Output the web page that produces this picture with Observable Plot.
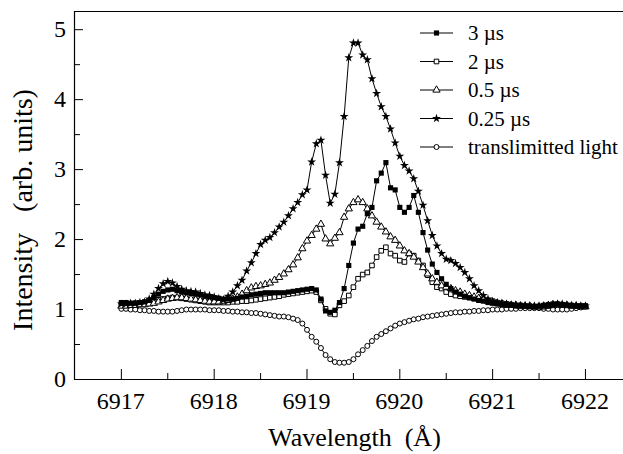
<!DOCTYPE html>
<html>
<head>
<meta charset="utf-8">
<script src="https://cdn.jsdelivr.net/npm/d3@7"></script>
<script src="https://cdn.jsdelivr.net/npm/@observablehq/plot@0.6"></script>
<style>
  html, body { margin: 0; padding: 0; background: #fff; }
  #chart { width: 623px; height: 454px; }
</style>
</head>
<body>
<div id="chart"></div>
<script>
const wavelength = [
  6917.00, 6917.05, 6917.10, 6917.15, 6917.20, 6917.25, 6917.30, 6917.35, 6917.40, 6917.45,
  6917.50, 6917.55, 6917.60, 6917.65, 6917.70, 6917.75, 6917.80, 6917.85, 6917.90, 6917.95,
  6918.00, 6918.05, 6918.10, 6918.15, 6918.20, 6918.25, 6918.30, 6918.35, 6918.40, 6918.45,
  6918.50, 6918.55, 6918.60, 6918.65, 6918.70, 6918.75, 6918.80, 6918.85, 6918.90, 6918.95,
  6919.00, 6919.05, 6919.10, 6919.15, 6919.20, 6919.25, 6919.30, 6919.35, 6919.40, 6919.45,
  6919.50, 6919.55, 6919.60, 6919.65, 6919.70, 6919.75, 6919.80, 6919.85, 6919.90, 6919.95,
  6920.00, 6920.05, 6920.10, 6920.15, 6920.20, 6920.25, 6920.30, 6920.35, 6920.40, 6920.45,
  6920.50, 6920.55, 6920.60, 6920.65, 6920.70, 6920.75, 6920.80, 6920.85, 6920.90, 6920.95,
  6921.00, 6921.05, 6921.10, 6921.15, 6921.20, 6921.25, 6921.30, 6921.35, 6921.40, 6921.45,
  6921.50, 6921.55, 6921.60, 6921.65, 6921.70, 6921.75, 6921.80, 6921.85, 6921.90, 6921.95,
  6922.00
];

const int3us = [
  1.10, 1.10, 1.09, 1.09, 1.10, 1.11, 1.13, 1.17, 1.22, 1.26,
  1.28, 1.29, 1.27, 1.25, 1.24, 1.23, 1.22, 1.21, 1.19, 1.18,
  1.17, 1.16, 1.15, 1.15, 1.15, 1.16, 1.18, 1.19, 1.21, 1.22,
  1.23, 1.24, 1.24, 1.24, 1.24, 1.24, 1.25, 1.26, 1.27, 1.28,
  1.29, 1.30, 1.28, 1.15, 0.98, 0.96, 0.99, 1.10, 1.30, 1.63,
  1.95, 2.15, 2.19, 2.37, 2.46, 2.84, 2.95, 3.10, 2.74, 2.71,
  2.46, 2.39, 2.46, 2.63, 2.39, 2.10, 1.85, 1.65, 1.53, 1.44,
  1.36, 1.30, 1.25, 1.22, 1.19, 1.17, 1.15, 1.13, 1.12, 1.10,
  1.09, 1.08, 1.07, 1.06, 1.06, 1.05, 1.05, 1.05, 1.04, 1.04,
  1.05, 1.06, 1.07, 1.08, 1.08, 1.07, 1.06, 1.06, 1.05, 1.05,
  1.05
];

const int2us = [
  1.08, 1.08, 1.08, 1.09, 1.09, 1.10, 1.11, 1.13, 1.14, 1.15,
  1.16, 1.17, 1.17, 1.16, 1.15, 1.14, 1.13, 1.12, 1.11, 1.10,
  1.10, 1.10, 1.10, 1.10, 1.11, 1.11, 1.12, 1.12, 1.13, 1.14,
  1.15, 1.16, 1.17, 1.18, 1.19, 1.21, 1.22, 1.23, 1.24, 1.25,
  1.26, 1.27, 1.25, 1.13, 1.01, 0.94, 0.93, 1.06, 1.12, 1.20,
  1.32, 1.44, 1.50, 1.53, 1.63, 1.75, 1.84, 1.89, 1.80, 1.77,
  1.70, 1.68, 1.80, 1.77, 1.70, 1.63, 1.49, 1.39, 1.32, 1.30,
  1.25, 1.22, 1.20, 1.19, 1.18, 1.17, 1.16, 1.15, 1.14, 1.13,
  1.12, 1.10, 1.09, 1.08, 1.07, 1.06, 1.06, 1.05, 1.05, 1.04,
  1.04, 1.04, 1.05, 1.06, 1.07, 1.07, 1.06, 1.05, 1.05, 1.05,
  1.05
];

const int05us = [
  1.05, 1.05, 1.06, 1.06, 1.07, 1.07, 1.08, 1.09, 1.11, 1.13,
  1.15, 1.16, 1.17, 1.17, 1.16, 1.15, 1.14, 1.13, 1.12, 1.11,
  1.11, 1.11, 1.12, 1.13, 1.15, 1.18, 1.22, 1.27, 1.31, 1.33,
  1.34, 1.36, 1.38, 1.42, 1.46, 1.51, 1.57, 1.64, 1.74, 1.87,
  1.98, 2.06, 2.15, 2.22, 2.01, 1.94, 2.02, 2.10, 2.32, 2.44,
  2.53, 2.57, 2.53, 2.44, 2.34, 2.25, 2.18, 2.11, 2.04, 1.99,
  1.91, 1.84, 1.80, 1.75, 1.68, 1.60, 1.51, 1.44, 1.39, 1.34,
  1.32, 1.30, 1.27, 1.25, 1.22, 1.20, 1.18, 1.16, 1.14, 1.12,
  1.10, 1.09, 1.08, 1.07, 1.06, 1.06, 1.05, 1.05, 1.05, 1.04,
  1.04, 1.05, 1.06, 1.07, 1.07, 1.06, 1.06, 1.05, 1.05, 1.04,
  1.04
];

const int025us = [
  1.08, 1.08, 1.09, 1.09, 1.10, 1.11, 1.15, 1.22, 1.30, 1.37,
  1.40, 1.38, 1.33, 1.29, 1.27, 1.26, 1.25, 1.23, 1.21, 1.20,
  1.18, 1.16, 1.14, 1.19, 1.25, 1.34, 1.42, 1.55, 1.67, 1.80,
  1.93, 1.99, 2.03, 2.10, 2.18, 2.25, 2.34, 2.44, 2.53, 2.64,
  2.71, 3.11, 3.37, 3.42, 2.92, 2.52, 2.65, 3.10, 3.76, 4.60,
  4.81, 4.81, 4.64, 4.57, 4.30, 4.09, 3.90, 3.76, 3.58, 3.38,
  3.19, 3.06, 2.98, 2.87, 2.69, 2.49, 2.27, 2.06, 1.91, 1.80,
  1.72, 1.70, 1.66, 1.60, 1.53, 1.44, 1.34, 1.27, 1.20, 1.15,
  1.12, 1.10, 1.09, 1.08, 1.07, 1.07, 1.06, 1.06, 1.05, 1.05,
  1.05, 1.05, 1.06, 1.07, 1.08, 1.08, 1.07, 1.06, 1.06, 1.05,
  1.05
];

const intLight = [
  1.01, 1.01, 1.00, 1.00, 0.99, 0.99, 0.98, 0.98, 0.97, 0.97,
  0.97, 0.97, 0.98, 0.99, 1.00, 1.00, 1.00, 1.00, 1.00, 0.99,
  0.99, 0.99, 0.98, 0.98, 0.97, 0.97, 0.96, 0.96, 0.95, 0.95,
  0.94, 0.93, 0.92, 0.91, 0.90, 0.90, 0.89, 0.87, 0.85, 0.80,
  0.71, 0.61, 0.54, 0.45, 0.35, 0.29, 0.25, 0.24, 0.24, 0.25,
  0.29, 0.36, 0.42, 0.48, 0.55, 0.61, 0.65, 0.69, 0.73, 0.77,
  0.80, 0.82, 0.84, 0.86, 0.87, 0.89, 0.90, 0.91, 0.92, 0.93,
  0.94, 0.95, 0.96, 0.96, 0.97, 0.97, 0.98, 0.98, 0.99, 0.99,
  1.00, 1.00, 1.00, 1.01, 1.01, 1.01, 1.02, 1.02, 1.02, 1.02,
  1.02, 1.01, 1.01, 1.00, 1.00, 1.00, 1.00, 1.01, 1.02, 1.03,
  1.04
];

const seriesNames = ["3 \u00B5s", "2 \u00B5s", "0.5 \u00B5s", "0.25 \u00B5s", "translimitted light"];
const xTicks = [6917, 6918, 6919, 6920, 6921, 6922];
const xMinorTicks = [6917.5, 6918.5, 6919.5, 6920.5, 6921.5];
const yTicks = [0, 1, 2, 3, 4, 5];
const yMinorTicks = [0.5, 1.5, 2.5, 3.5, 4.5];
const xTitle = "Wavelength\u00A0\u00A0(\u00C5)";
const yTitle = "Intensity\u00A0\u00A0\u00A0(arb. units)";
const xDomain = [6916.495, 6922.41];
const yDomain = [0, 5.26];

const FONT = "Liberation Serif, Times New Roman, Times, serif";

// styles per series (same order as seriesNames)
const seriesStyle = [
  {values: int3us,   symbol: "square",   fill: "black", stroke: "none",  r: 2.9},
  {values: int2us,   symbol: "square",   fill: "white", stroke: "black", r: 2.6},
  {values: int05us,  symbol: "triangle", fill: "white", stroke: "black", r: 2.7},
  {values: int025us, symbol: "star",     fill: "black", stroke: "none",  r: 2.8},
  {values: intLight, symbol: "circle",   fill: "white", stroke: "black", r: 2.5}
];
const drawOrder = [4, 1, 2, 0, 3];

const seriesMarks = drawOrder.flatMap(i => {
  const s = seriesStyle[i];
  return [
    Plot.line(wavelength, {x: wavelength, y: s.values, stroke: "black", strokeWidth: 1}),
    Plot.dot(wavelength, {x: wavelength, y: s.values, symbol: () => s.symbol, r: s.r,
      fill: s.fill, stroke: s.stroke, strokeWidth: 1})
  ];
});

const chart = Plot.plot({
  width: 623,
  height: 454,
  marginLeft: 74,
  marginRight: 0,
  marginTop: 11,
  marginBottom: 75,
  style: {fontFamily: FONT, background: "white", color: "black", overflow: "visible"},
  x: {domain: xDomain, label: null},
  y: {domain: yDomain, label: null},
  symbol: {type: "identity"},
  marks: [
    Plot.ruleY([yDomain[0]], {stroke: "black", strokeWidth: 1.2}),
    Plot.ruleY([yDomain[1]], {stroke: "black", strokeWidth: 1.2}),
    Plot.ruleX([xDomain[0]], {stroke: "black", strokeWidth: 1.2}),
    Plot.axisX(xTicks, {anchor: "bottom", tickSize: -10, tickFormat: () => "", label: null}),
    Plot.axisX(xMinorTicks, {anchor: "bottom", tickSize: -6, tickFormat: () => "", label: null}),
    Plot.axisY(yTicks, {anchor: "left", tickSize: -9, tickFormat: () => "", label: null}),
    Plot.axisY(yMinorTicks, {anchor: "left", tickSize: -6, tickFormat: () => "", label: null}),
    ...seriesMarks
  ]
});

document.getElementById("chart").appendChild(chart);

const svg = d3.select(chart);
const xs = chart.scale("x");
const ys = chart.scale("y");
const frameLeft = xs.apply(xDomain[0]);
const frameRight = xs.apply(xDomain[1]);
const frameBottom = ys.apply(yDomain[0]);
const frameTop = ys.apply(yDomain[1]);

// tick labels and titles, placed with Plot's own scales
const tg = svg.append("g").attr("font-family", FONT).attr("fill", "black");
xTicks.forEach(t => {
  tg.append("text").attr("x", xs.apply(t)).attr("y", frameBottom + 13).attr("dy", "0.71em")
    .attr("text-anchor", "middle").attr("font-size", 24).text(String(t));
});
yTicks.forEach(t => {
  tg.append("text").attr("x", frameLeft - 8).attr("y", ys.apply(t)).attr("dy", "0.33em")
    .attr("text-anchor", "end").attr("font-size", 24).text(String(t));
});
tg.append("text").attr("x", (frameLeft + frameRight) / 2 + 6).attr("y", frameBottom + 67)
  .attr("text-anchor", "middle").attr("font-size", 26).text(xTitle);
tg.append("text")
  .attr("transform", `translate(${frameLeft - 52},${(frameTop + frameBottom) / 2 + 15}) rotate(-90)`)
  .attr("dy", "0.35em").attr("text-anchor", "middle").attr("font-size", 28).text(yTitle);

// Legend (inside plot, upper right)
const symbolMap = {square: d3.symbolSquare, triangle: d3.symbolTriangle, star: d3.symbolStar, circle: d3.symbolCircle};
const lg = svg.append("g").attr("font-size", 21).attr("fill", "black").attr("text-anchor", "start")
  .attr("font-family", FONT);
seriesNames.forEach((name, i) => {
  const s = seriesStyle[i];
  const cy = 33 + 28.5 * i;
  lg.append("line").attr("x1", 420).attr("x2", 453).attr("y1", cy).attr("y2", cy)
    .attr("stroke", "black").attr("stroke-width", 1);
  lg.append("path")
    .attr("d", d3.symbol(symbolMap[s.symbol], Math.PI * s.r * s.r)())
    .attr("transform", `translate(436.5,${cy})`)
    .attr("fill", s.fill).attr("stroke", s.stroke).attr("stroke-width", 1);
  lg.append("text").attr("x", 468).attr("y", cy).attr("dy", "0.35em").attr("text-anchor", "start").text(name);
});
</script>
</body>
</html>
